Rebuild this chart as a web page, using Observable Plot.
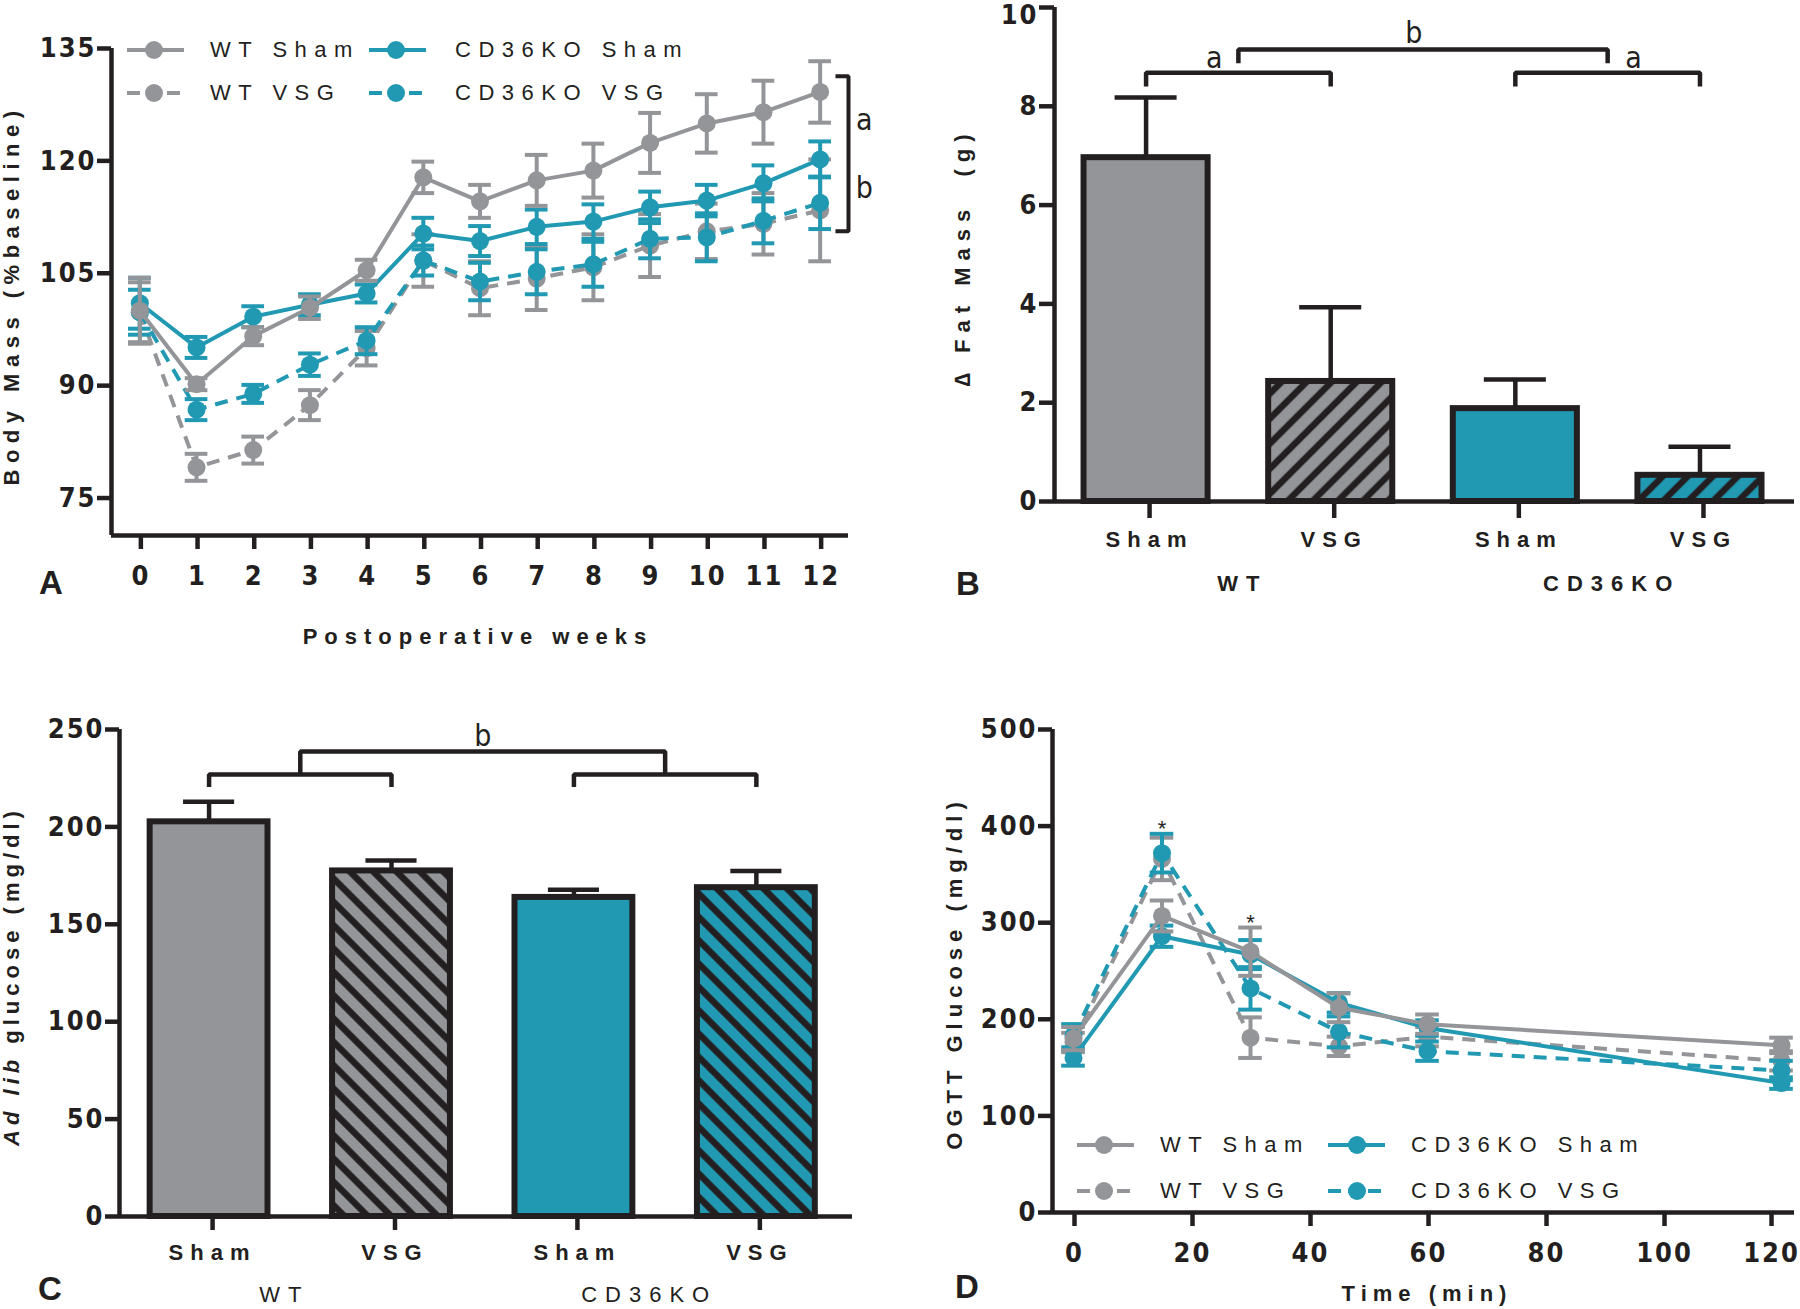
<!DOCTYPE html>
<html lang="en">
<head>
<meta charset="utf-8">
<title>Body mass, fat mass and glucose: WT vs CD36KO, Sham vs VSG</title>
<script src="https://cdn.jsdelivr.net/npm/d3@7"></script>
<script src="https://cdn.jsdelivr.net/npm/@observablehq/plot@0.6"></script>
<style>
html,body{margin:0;padding:0;background:#fff;}
#fig{position:relative;width:1800px;height:1309px;overflow:hidden;background:#fff;color:#231f20;font-family:"Liberation Sans",Arial,Helvetica,sans-serif;}
.panel{position:absolute;}
.panel svg{display:block;overflow:visible;}
.lbl{position:absolute;white-space:pre;transform:translate(-50%,-50%);line-height:1;}
.rot{transform:translate(-50%,-50%) rotate(-90deg);}
.axt{font-weight:bold;font-size:22px;letter-spacing:6px;}
.plet{font-weight:bold;font-size:33px;}
.leg{position:absolute;white-space:pre;font-size:22px;letter-spacing:7.5px;line-height:1;transform:translateY(-50%);}
.sw{position:absolute;overflow:visible;}
g[aria-label="y-axis tick label"]{letter-spacing:2px;}
#pA g[aria-label="x-axis tick label"], #pD g[aria-label="x-axis tick label"]{letter-spacing:2px;}
#pB g[aria-label="x-axis tick label"], #pC g[aria-label="x-axis tick label"]{letter-spacing:7px;}
.grp{letter-spacing:8px;}
</style>
</head>
<body>
<div id="fig">
  <svg width="0" height="0" style="position:absolute">
    <defs>
      <pattern id="hatchGrayB" patternUnits="userSpaceOnUse" width="17.7" height="17.7" patternTransform="rotate(45)">
        <rect width="17.7" height="17.7" fill="#939598"></rect>
        <line x1="8.85" y1="0" x2="8.85" y2="17.7" stroke="#231f20" stroke-width="6.5"></line>
      </pattern>
      <pattern id="hatchTealB" patternUnits="userSpaceOnUse" width="17.7" height="17.7" patternTransform="rotate(45)">
        <rect width="17.7" height="17.7" fill="#2199b3"></rect>
        <line x1="8.85" y1="0" x2="8.85" y2="17.7" stroke="#231f20" stroke-width="6.5"></line>
      </pattern>
      <pattern id="hatchGrayC" patternUnits="userSpaceOnUse" width="16.5" height="16.5" patternTransform="rotate(-45)">
        <rect width="16.5" height="16.5" fill="#939598"></rect>
        <line x1="8.25" y1="0" x2="8.25" y2="16.5" stroke="#231f20" stroke-width="6.5"></line>
      </pattern>
      <pattern id="hatchTealC" patternUnits="userSpaceOnUse" width="16.5" height="16.5" patternTransform="rotate(-45)">
        <rect width="16.5" height="16.5" fill="#2199b3"></rect>
        <line x1="8.25" y1="0" x2="8.25" y2="16.5" stroke="#231f20" stroke-width="6.5"></line>
      </pattern>
    </defs>
  </svg>
</div>
<script>
// ---------------- DATA ----------------
// Panel A: body mass (% baseline) by postoperative week
const weeks = [0,1,2,3,4,5,6,7,8,9,10,11,12];
const wtShamMass    = [100.0, 90.2, 96.6, 100.4, 105.4, 117.8, 114.6, 117.4, 118.7, 122.4, 125.0, 126.5, 129.2];
const wtShamMassSem = [4.4, 0.8, 1.2, 1.5, 1.4, 2.1, 2.2, 3.4, 3.6, 4.0, 3.9, 4.2, 4.1];
const cdShamMass    = [101.0, 95.1, 99.2, 100.8, 102.3, 110.3, 109.3, 111.2, 111.9, 113.8, 114.7, 117.0, 120.2];
const cdShamMassSem = [3.4, 1.4, 1.4, 1.4, 1.2, 2.1, 2.0, 2.3, 2.3, 2.1, 2.1, 2.4, 2.4];
const wtVsgMass     = [99.8, 79.1, 81.4, 87.4, 95.0, 106.7, 103.0, 104.3, 105.8, 108.7, 110.6, 111.6, 113.4];
const wtVsgMassSem  = [4.0, 1.8, 1.8, 2.0, 2.3, 3.5, 3.6, 4.2, 4.4, 4.2, 3.7, 4.1, 6.8];
const cdVsgMass     = [99.8, 86.8, 88.9, 92.8, 96.0, 106.7, 103.9, 105.2, 106.2, 109.6, 109.8, 112.0, 114.4];
const cdVsgMassSem  = [3.0, 1.4, 1.2, 1.5, 1.8, 2.0, 2.5, 3.0, 3.0, 2.6, 3.2, 3.0, 3.5];
const massTicks = [75, 90, 105, 120, 135];

// Panels B and C: bar groups
const barGenotypes  = ["WT", "WT", "CD36KO", "CD36KO"];
const barTreatments = ["Sham", "VSG", "Sham", "VSG"];
const fatMassDelta  = [6.96, 2.43, 1.88, 0.53];
const fatMassSem    = [1.22, 1.50, 0.59, 0.58];
const fatTicks = [0, 2, 4, 6, 8, 10];
const adLibGlucose    = [202.6, 177.4, 163.8, 168.8];
const adLibGlucoseSem = [10.3, 5.4, 3.9, 8.6];
const glucoseTicks = [0, 50, 100, 150, 200, 250];

// Panel D: OGTT glucose (mg/dl)
const ogttMinutes = [0, 15, 30, 45, 60, 120];
const wtShamOgtt    = [180, 307, 270, 212, 195, 173];
const wtShamOgttSem = [12, 16, 25, 15, 10, 8];
const cdShamOgtt    = [160, 286, 267, 217, 191, 134];
const cdShamOgttSem = [8, 11, 15, 10, 8, 6];
const wtVsgOgtt     = [176, 366, 181, 172, 182, 157];
const wtVsgOgttSem  = [10, 22, 21, 10, 10, 10];
const cdVsgOgtt     = [183, 372, 232, 187, 167, 147];
const cdVsgOgttSem  = [12, 20, 22, 16, 10, 10];
const ogttTicks = [0, 100, 200, 300, 400, 500];
const minuteTicks = [0, 20, 40, 60, 80, 100, 120];
const ogttStarMinutes = [15, 30];

// Legend entries
const seriesNames = ["WT Sham", "CD36KO Sham", "WT VSG", "CD36KO VSG"];

// ---------------- STYLE ----------------
const GRAY = "#939598", TEAL = "#2199b3", INK = "#231f20";
const NARROW = '"Liberation Sans Narrow","Arial Narrow","DejaVu Sans Condensed",sans-serif';
const SANS = '"Liberation Sans",Arial,Helvetica,sans-serif';
const tickFont = {fontFamily: NARROW, fontSize: 27, fontWeight: "bold"};
const svgStyle = {overflow: "visible", background: "none", color: INK};
const fig = document.getElementById("fig");

function mount(node, id, left, top) {
  const d = document.createElement("div");
  d.className = "panel"; d.id = id;
  d.style.left = left + "px"; d.style.top = top + "px";
  d.appendChild(node); fig.appendChild(d);
}
function label(html, x, y, cls, spacing) {
  const d = document.createElement("div");
  d.className = "lbl " + cls; d.innerHTML = html;
  d.style.left = x + "px"; d.style.top = y + "px";
  if (spacing != null) d.style.letterSpacing = spacing + "px";
  fig.appendChild(d);
}
function rows(xs, mean, sem) { return xs.map((x, i) => ({x, y: mean[i], e: sem[i]})); }
function seriesMarks(data, color, dashed, cap) {
  const w = 4;
  return [
    Plot.ruleX(data, {x: "x", y1: d => d.y - d.e, y2: d => d.y + d.e, stroke: color, strokeWidth: w}),
    Plot.ruleY(data, {y: d => d.y + d.e, x1: d => d.x - cap, x2: d => d.x + cap, stroke: color, strokeWidth: w}),
    Plot.ruleY(data, {y: d => d.y - d.e, x1: d => d.x - cap, x2: d => d.x + cap, stroke: color, strokeWidth: w}),
    Plot.line(data, {x: "x", y: "y", stroke: color, strokeWidth: w, strokeLinecap: "butt",
      strokeDasharray: dashed ? "13,9" : undefined}),
    Plot.dot(data, {x: "x", y: "y", r: 9, fill: color})
  ];
}
function bracketPath(x1, x2, top, drop, k) {
  return [{k, x: x1, y: drop}, {k, x: x1, y: top}, {k, x: x2, y: top}, {k, x: x2, y: drop}];
}
function legend(rowsY, cols) {
  const colors = [GRAY, TEAL];
  seriesNames.forEach((name, k) => {
    const col = cols[k % 2], rowY = rowsY[Math.floor(k / 2)], dashed = k >= 2;
    const svg = d3.create("svg").attr("class", "sw").attr("width", 58).attr("height", 24)
      .style("left", col.swatch + "px").style("top", (rowY - 12) + "px");
    svg.append("line").attr("x1", 0).attr("x2", 57).attr("y1", 12).attr("y2", 12)
      .attr("stroke", colors[k % 2]).attr("stroke-width", 4)
      .attr("stroke-dasharray", dashed ? "13,7" : null);
    svg.append("circle").attr("cx", col.marker - col.swatch).attr("cy", 12).attr("r", 9).attr("fill", colors[k % 2]);
    fig.appendChild(svg.node());
    const t = document.createElement("div");
    t.className = "leg"; t.textContent = name;
    t.style.left = col.text + "px"; t.style.top = rowY + "px";
    fig.appendChild(t);
  });
}
const axisLine = {stroke: INK, strokeWidth: 4.5};
const yTickOpts = {...tickFont, tickSize: 14, tickPadding: 1, strokeWidth: 4.5, color: INK, label: null};
const xTickOpts = {...tickFont, tickSize: 14, tickPadding: 16, dx: 1, strokeWidth: 4.5, color: INK, label: null};

// ---------------- PANEL A ----------------
const aX = [-0.5, 12.5], aY = [70, 135];
const capA = 0.2;
const massSeries = [
  {mean: wtVsgMass, sem: wtVsgMassSem, color: GRAY, dashed: true},
  {mean: cdVsgMass, sem: cdVsgMassSem, color: TEAL, dashed: true},
  {mean: cdShamMass, sem: cdShamMassSem, color: TEAL, dashed: false},
  {mean: wtShamMass, sem: wtShamMassSem, color: GRAY, dashed: false}
];
const massBracket = [{x: 12.27, y: 131.3}, {x: 12.5, y: 131.3}, {x: 12.5, y: 110.6}, {x: 12.27, y: 110.6}];
const massLetters = [{t: "a", y: 125.4}, {t: "b", y: 116.3}];

const plotA = Plot.plot({
  width: 900, height: 650, marginLeft: 111, marginRight: 52, marginTop: 48, marginBottom: 115,
  style: svgStyle,
  x: {domain: aX}, y: {domain: aY},
  marks: [
    ...massSeries.flatMap(s => seriesMarks(rows(weeks, s.mean, s.sem), s.color, s.dashed, capA)),
    Plot.ruleX([aX[0]], axisLine),
    Plot.ruleY([aY[0]], axisLine),
    Plot.axisY(massTicks, yTickOpts),
    Plot.axisX(weeks, xTickOpts),
    Plot.line(massBracket, {x: "x", y: "y", stroke: INK, strokeWidth: 4, strokeLinejoin: "miter", strokeLinecap: "butt"}),
    Plot.text(massLetters, {x: () => 12.78, y: "y", text: "t", fontFamily: NARROW, fontSize: 30, fill: INK})
  ]
});
mount(plotA, "pA", 0, 0);

// ---------------- PANEL B ----------------
const genotypeCenters = Array.from(d3.group(d3.range(barGenotypes.length), i => barGenotypes[i]),
  ([g, idx]) => ({g, x: d3.mean(idx)}));
const barFillsB = [GRAY, "url(#hatchGrayB)", TEAL, "url(#hatchTealB)"];
const barFillsC = [GRAY, "url(#hatchGrayC)", TEAL, "url(#hatchTealC)"];
const fatRows = barTreatments.map((t, i) => ({i, t, v: fatMassDelta[i], e: fatMassSem[i]}));
const bX = [-0.496, 3.512], bY = [0, 10];
const halfB = 0.336, capB = 0.168;
const fatBrackets = [
  ...bracketPath(0, 1, 8.68, 8.40, "wt"),
  ...bracketPath(2, 3, 8.68, 8.40, "ko"),
  ...bracketPath(0.5, 2.5, 9.15, 8.87, "all")
];
const fatLetters = [{t: "a", x: 0.37, y: 8.97}, {t: "a", x: 2.64, y: 8.97}, {t: "b", x: 1.45, y: 9.47}];
const fatTopTick = fatTicks[fatTicks.length - 1];

const plotB = Plot.plot({
  width: 900, height: 650, marginLeft: 154, marginRight: 6, marginTop: 7, marginBottom: 149,
  style: svgStyle,
  x: {domain: bX}, y: {domain: bY},
  marks: [
    Plot.ruleX(fatRows, {x: "i", y1: "v", y2: d => d.v + d.e, stroke: INK, strokeWidth: 4.5}),
    Plot.ruleY(fatRows, {y: d => d.v + d.e, x1: d => d.i - capB, x2: d => d.i + capB, stroke: INK, strokeWidth: 4.5}),
    ...fatRows.map(r => Plot.rectY([r], {x1: d => d.i - halfB, x2: d => d.i + halfB, y: "v",
      fill: barFillsB[r.i], stroke: INK, strokeWidth: 6})),
    Plot.ruleX([bX[0]], axisLine),
    Plot.ruleY([bY[0]], axisLine),
    Plot.axisY(fatTicks, {...yTickOpts, tickSize: 15, tickFormat: () => ""}),
    Plot.axisY(fatTicks.filter(v => v !== fatTopTick), {...yTickOpts, tickSize: 0, tickPadding: 16}),
    Plot.axisY([fatTopTick], {...yTickOpts, tickSize: 0, tickPadding: 16, dy: 8}),
    Plot.axisX(d3.range(barTreatments.length), {tickFormat: i => barTreatments[i], fontFamily: SANS, fontSize: 22,
      fontWeight: "bold", tickSize: 17, tickPadding: 13, dx: 3.5, strokeWidth: 4.5, color: INK, label: null}),
    Plot.text(genotypeCenters, {x: "x", y: () => 0, text: "g", dy: 82, dx: 4, fontFamily: SANS, fontSize: 22,
      fontWeight: "bold", fill: INK, className: "grp"}),
    Plot.line(fatBrackets, {x: "x", y: "y", z: "k", stroke: INK, strokeWidth: 4.5, strokeLinejoin: "miter", strokeLinecap: "butt"}),
    Plot.text(fatLetters, {x: "x", y: "y", text: "t", fontFamily: NARROW, fontSize: 30, fill: INK})
  ]
});
mount(plotB, "pB", 900, 0);

// ---------------- PANEL C ----------------
const glucoseRows = barTreatments.map((t, i) => ({i, t, v: adLibGlucose[i], e: adLibGlucoseSem[i]}));
const cX = [-0.491, 3.527], cY = [0, 250];
const halfC = 0.323, capC = 0.14;
const glucoseBrackets = [
  ...bracketPath(0, 1, 226.9, 220.5, "wt"),
  ...bracketPath(2, 3, 226.9, 220.5, "ko"),
  ...bracketPath(0.5, 2.5, 238.7, 226.9, "all")
];
const glucoseLetters = [{t: "b", x: 1.5, y: 246.4}];

const plotC = Plot.plot({
  width: 900, height: 659, marginLeft: 119, marginRight: 48, marginTop: 79, marginBottom: 93,
  style: svgStyle,
  x: {domain: cX}, y: {domain: cY},
  marks: [
    Plot.ruleX(glucoseRows, {x: "i", y1: "v", y2: d => d.v + d.e, stroke: INK, strokeWidth: 4.5}),
    Plot.ruleY(glucoseRows, {y: d => d.v + d.e, x1: d => d.i - capC, x2: d => d.i + capC, stroke: INK, strokeWidth: 4.5}),
    ...glucoseRows.map(r => Plot.rectY([r], {x1: d => d.i - halfC, x2: d => d.i + halfC, y: "v",
      fill: barFillsC[r.i], stroke: INK, strokeWidth: 6})),
    Plot.ruleX([cX[0]], axisLine),
    Plot.ruleY([cY[0]], axisLine),
    Plot.axisY(glucoseTicks, yTickOpts),
    Plot.axisX(d3.range(barTreatments.length), {tickFormat: i => barTreatments[i], fontFamily: SANS, fontSize: 22,
      fontWeight: "bold", tickSize: 14, tickPadding: 14, dx: 3.5, strokeWidth: 4.5, color: INK, label: null}),
    Plot.text(genotypeCenters, {x: "x", y: () => 0, text: "g", dy: 78, dx: -16, fontFamily: SANS, fontSize: 22,
      fill: INK, className: "grp"}),
    Plot.line(glucoseBrackets, {x: "x", y: "y", z: "k", stroke: INK, strokeWidth: 4.5, strokeLinejoin: "miter", strokeLinecap: "butt"}),
    Plot.text(glucoseLetters, {x: "x", y: "y", text: "t", fontFamily: NARROW, fontSize: 30, fill: INK})
  ]
});
mount(plotC, "pC", 0, 650);

// ---------------- PANEL D ----------------
const dX = [-3.56, 122.2], dY = [0, 500];
const capD = 2;
const ogttSeries = [
  {mean: wtVsgOgtt, sem: wtVsgOgttSem, color: GRAY, dashed: true},
  {mean: cdVsgOgtt, sem: cdVsgOgttSem, color: TEAL, dashed: true},
  {mean: cdShamOgtt, sem: cdShamOgttSem, color: TEAL, dashed: false},
  {mean: wtShamOgtt, sem: wtShamOgttSem, color: GRAY, dashed: false}
];
const starRows = ogttStarMinutes.map(m => {
  const k = ogttMinutes.indexOf(m);
  return {x: m, y: d3.max(ogttSeries, s => s.mean[k] + s.sem[k])};
});
const lastMinute = minuteTicks[minuteTicks.length - 1];

const plotD = Plot.plot({
  width: 900, height: 659, marginLeft: 152, marginRight: 6, marginTop: 79, marginBottom: 97,
  style: svgStyle,
  x: {domain: dX}, y: {domain: dY},
  marks: [
    ...ogttSeries.flatMap(s => seriesMarks(rows(ogttMinutes, s.mean, s.sem), s.color, s.dashed, capD)),
    Plot.ruleX([dX[0]], axisLine),
    Plot.ruleY([dY[0]], axisLine),
    Plot.axisY(ogttTicks, yTickOpts),
    Plot.axisX(minuteTicks.filter(m => m !== lastMinute), xTickOpts),
    Plot.axisX([lastMinute], {...xTickOpts, dx: -10}),
    Plot.text(starRows, {x: "x", y: "y", text: () => "*", dy: 2, lineAnchor: "bottom", fontFamily: SANS, fontSize: 22, fill: INK})
  ]
});
mount(plotD, "pD", 900, 650);

// ---------------- TITLES, LABELS, LEGENDS ----------------
label("Body Mass (%baseline)", 12, 295, "axt rot", 6.5);
label("Postoperative weeks", 478, 637, "axt", 7);
label("A", 51, 582, "plet");
label("\u2206 Fat Mass  (g)", 963, 257, "axt rot", 7);
label("B", 968, 583, "plet");
label("<i>Ad lib</i> glucose (mg/dl)", 12, 976, "axt rot", 5);
label("C", 50, 1288, "plet");
label("OGTT Glucose (mg/dl)", 955, 973, "axt rot", 6);
label("Time (min)", 1427, 1294, "axt", 6);
label("D", 967, 1286, "plet");

legend([50, 93], [{swatch: 127, marker: 154, text: 210}, {swatch: 369, marker: 396, text: 455}]);
legend([1145, 1191], [{swatch: 1077, marker: 1104, text: 1160}, {swatch: 1328, marker: 1357, text: 1411}]);
</script>
</body>
</html>
